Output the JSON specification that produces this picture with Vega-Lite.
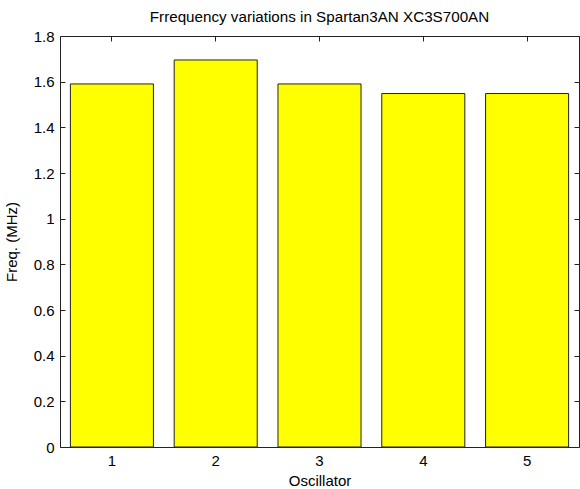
{
  "$schema": "https://vega.github.io/schema/vega-lite/v6.json",
  "width": 519,
  "height": 411,
  "autosize": {"type": "none"},
  "padding": {"left": 60, "top": 36, "right": 1, "bottom": 42},
  "background": "white",
  "title": {
    "text": "Frrequency variations in Spartan3AN XC3S700AN",
    "font": "Liberation Sans",
    "fontSize": 15.2,
    "fontWeight": "normal",
    "color": "#000",
    "offset": 4
  },
  "config": {
    "view": {"stroke": "#222", "strokeWidth": 1},
    "axis": {
      "domain": false,
      "grid": false,
      "tickColor": "#222",
      "tickSize": -5,
      "labelFont": "Liberation Sans",
      "labelFontSize": 15,
      "labelColor": "#000",
      "titleFont": "Liberation Sans",
      "titleFontSize": 15,
      "titleFontWeight": "normal",
      "titleColor": "#000"
    }
  },
  "data": {
    "values": [
      {"Oscillator": 1, "Freq": 1.59},
      {"Oscillator": 2, "Freq": 1.695},
      {"Oscillator": 3, "Freq": 1.59},
      {"Oscillator": 4, "Freq": 1.548},
      {"Oscillator": 5, "Freq": 1.548}
    ]
  },
  "layer": [
    {
      "mark": {"type": "bar", "fill": "#ffff00", "stroke": "#222", "strokeWidth": 1},
      "encoding": {
        "x": {
          "field": "Oscillator",
          "type": "ordinal",
          "scale": {"paddingInner": 0.2, "paddingOuter": 0.1},
          "axis": {"orient": "bottom", "labelAngle": 0, "labelPadding": 11, "title": "Oscillator", "titlePadding": 5}
        },
        "y": {
          "field": "Freq",
          "type": "quantitative",
          "scale": {"domain": [0, 1.8], "nice": false, "zero": true},
          "axis": {"orient": "left", "values": [0, 0.2, 0.4, 0.6, 0.8, 1, 1.2, 1.4, 1.6, 1.8], "format": "~g", "labelPadding": 11, "title": "Freq. (MHz)", "titlePadding": 14}
        }
      }
    },
    {
      "mark": {"type": "bar", "opacity": 0},
      "encoding": {
        "x": {
          "field": "Oscillator",
          "type": "ordinal",
          "axis": {"orient": "top", "labels": false, "title": null}
        },
        "y": {
          "field": "Freq",
          "type": "quantitative",
          "axis": {"orient": "right", "labels": false, "title": null, "values": [0, 0.2, 0.4, 0.6, 0.8, 1, 1.2, 1.4, 1.6, 1.8]}
        }
      }
    }
  ],
  "resolve": {"axis": {"x": "independent", "y": "independent"}}
}
